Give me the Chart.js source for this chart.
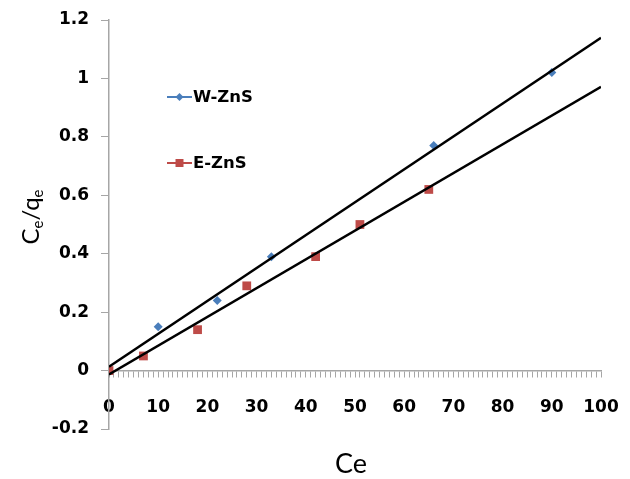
<!DOCTYPE html>
<html>
<head>
<meta charset="utf-8">
<script src="https://cdn.jsdelivr.net/npm/chart.js@4/dist/chart.umd.min.js"></script>
<style>
  html, body { margin: 0; padding: 0; background: #fff; }
  #wrap { width: 630px; height: 479px; position: relative; }
</style>
</head>
<body>
<div id="wrap"><canvas id="c" width="630" height="479"></canvas></div>
<script>
// ---- data ----
const seriesNames = ['W-ZnS', 'E-ZnS'];
const wZnS_Ce = [10, 22, 33, 66, 90];
const wZnS_Y  = [0.15, 0.24, 0.39, 0.77, 1.02];
const eZnS_Ce = [0, 7, 18, 28, 42, 51, 65];
const eZnS_Y  = [0, 0.05, 0.14, 0.29, 0.39, 0.50, 0.62];
// linear trend lines (end points)
const wTrendX = [0, 100];
const wTrendY = [0.013, 1.139];
const eTrendX = [0, 100];
const eTrendY = [-0.013, 0.971];
// ticks
const xMajorTicks = [0, 10, 20, 30, 40, 50, 60, 70, 80, 90, 100];
const yTicks = [-0.2, 0, 0.2, 0.4, 0.6, 0.8, 1, 1.2];
const xTitle = 'Ce';

const FONT = 'Lato, Calibri, "Liberation Sans", sans-serif';
const TICKFONT = '"DejaVu Sans", Verdana, sans-serif';
const BLUE = '#4A7EBB';
const RED = '#BE4B48';

const zip = (xs, ys) => xs.map((x, i) => ({x, y: ys[i]}));

const overlay = {
  id: 'overlay',
  afterDraw(chart) {
    const ctx = chart.ctx;
    ctx.save();
    // legend
    const items = [
      {name: seriesNames[0], color: BLUE, style: 'diamond', y: 97},
      {name: seriesNames[1], color: RED, style: 'square', y: 163}
    ];
    items.forEach(it => {
      ctx.strokeStyle = it.color;
      ctx.lineWidth = 2;
      ctx.beginPath();
      ctx.moveTo(167, it.y);
      ctx.lineTo(192, it.y);
      ctx.stroke();
      ctx.fillStyle = it.color;
      ctx.beginPath();
      if (it.style === 'diamond') {
        ctx.moveTo(179.5, it.y - 4); ctx.lineTo(183.5, it.y); ctx.lineTo(179.5, it.y + 4); ctx.lineTo(175.5, it.y);
      } else {
        ctx.rect(175.5, it.y - 4, 8, 8);
      }
      ctx.closePath();
      ctx.fill();
      ctx.fillStyle = '#000';
      ctx.font = 'bold 16.5px ' + TICKFONT;
      ctx.textAlign = 'left';
      ctx.textBaseline = 'middle';
      ctx.fillText(it.name, 193, it.y + 1);
    });
    // x title
    ctx.fillStyle = '#000';
    ctx.font = '27px ' + FONT;
    ctx.textAlign = 'center';
    ctx.textBaseline = 'middle';
    ctx.fillText(xTitle, 351, 464);
    // y title with subscripts: C_e/q_e
    ctx.translate(31, 217);
    ctx.rotate(-Math.PI / 2);
    const parts = [['C', 0], ['e', 1], ['/q', 0], ['e', 1]];
    const big = '24px ' + FONT, small = '15px ' + FONT;
    let total = 0;
    parts.forEach(p => { ctx.font = p[1] ? small : big; total += ctx.measureText(p[0]).width; });
    let x = -total / 2;
    ctx.textAlign = 'left';
    ctx.textBaseline = 'alphabetic';
    parts.forEach(p => {
      ctx.font = p[1] ? small : big;
      ctx.fillText(p[0], x, p[1] ? 12 : 8);
      x += ctx.measureText(p[0]).width;
    });
    ctx.restore();
  }
};

new Chart(document.getElementById('c'), {
  type: 'scatter',
  data: {
    datasets: [
      {
        label: seriesNames[0],
        data: zip(wZnS_Ce, wZnS_Y),
        pointStyle: 'rectRot',
        pointRadius: 4.5,
        backgroundColor: BLUE,
        borderColor: BLUE,
        borderWidth: 0,
        order: 1
      },
      {
        label: seriesNames[1],
        data: zip(eZnS_Ce, eZnS_Y),
        pointStyle: 'rect',
        pointRadius: 6.2,
        backgroundColor: RED,
        borderColor: RED,
        borderWidth: 0,
        order: 1
      },
      {
        label: 'W trend',
        type: 'line',
        data: zip(wTrendX, wTrendY),
        borderColor: '#000',
        borderWidth: 2.4,
        pointRadius: 0,
        fill: false,
        order: 0
      },
      {
        label: 'E trend',
        type: 'line',
        data: zip(eTrendX, eTrendY),
        borderColor: '#000',
        borderWidth: 2.4,
        pointRadius: 0,
        fill: false,
        order: 0
      }
    ]
  },
  options: {
    responsive: false,
    animation: false,
    devicePixelRatio: 1,
    layout: { padding: { top: 20, right: 29, bottom: 50, left: 0 } },
    plugins: { legend: { display: false }, tooltip: { enabled: false } },
    scales: {
      x: {
        type: 'linear',
        position: { y: 0 },
        min: 0, max: 100,
        afterFit(s) { s.height = 50; s.paddingLeft = 0; s.paddingRight = 0; s.paddingTop = 0; s.paddingBottom = 0; },
        ticks: {
          stepSize: 1,
          autoSkip: false,
          maxRotation: 0, minRotation: 0,
          padding: 21,
          color: '#000',
          font: { family: TICKFONT, size: 17, weight: 'bold' },
          callback: v => xMajorTicks.includes(v) ? String(v) : ''
        },
        grid: {
          drawOnChartArea: false,
          drawTicks: true,
          tickLength: 6,
          color: '#A6A6A6',
          lineWidth: 1
        },
        border: { display: true, color: '#A6A6A6', width: 1.5 }
      },
      y: {
        type: 'linear',
        min: -0.2, max: 1.2,
        afterFit(s) { s.width = 109; s.paddingTop = 0; s.paddingBottom = 0; s.paddingLeft = 0; s.paddingRight = 0; },
        afterBuildTicks(s) { s.ticks = yTicks.map(v => ({value: v})); },
        ticks: {
          padding: 12,
          color: '#000',
          font: { family: TICKFONT, size: 17, weight: 'bold' },
          callback: v => String(Math.round(v * 10) / 10)
        },
        grid: {
          drawOnChartArea: false,
          drawTicks: true,
          tickLength: 8,
          color: '#A6A6A6',
          lineWidth: 1
        },
        border: { display: true, color: '#A6A6A6', width: 1.5 }
      }
    }
  },
  plugins: [overlay]
});
</script>
</body>
</html>
